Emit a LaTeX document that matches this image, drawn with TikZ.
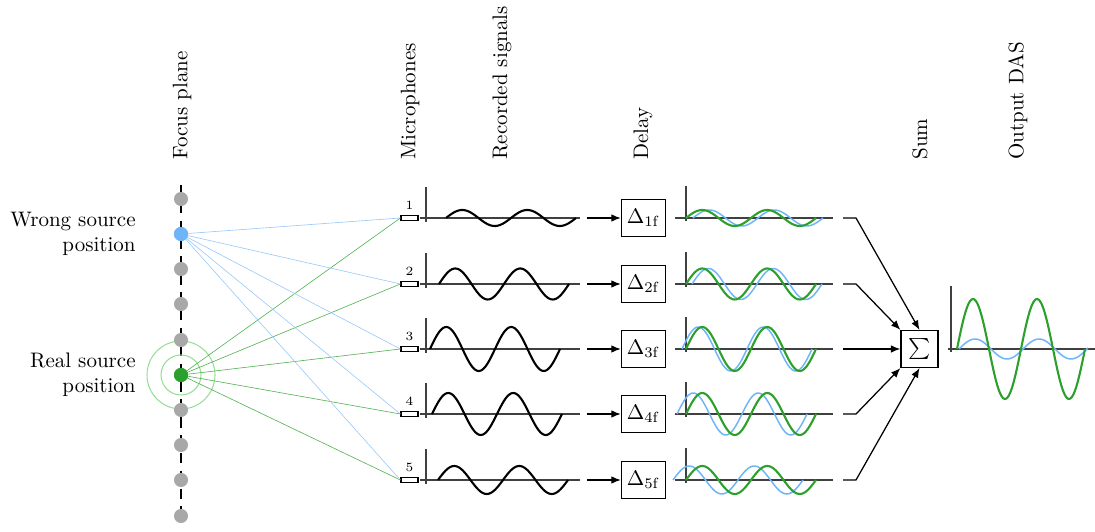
\documentclass[tikz,border=0pt]{standalone}
\usetikzlibrary{arrows.meta}
\definecolor{dasblue}{RGB}{110,180,248}
\definecolor{dasgreen}{RGB}{44,160,44}
\definecolor{lgreen}{RGB}{150,222,150}
\definecolor{dotgray}{RGB}{168,168,168}
\tikzset{
  dotnode/.style={circle,inner sep=0pt,minimum size=6.7pt},
  micbox/.style={draw,fill=white,line width=0.7pt,minimum width=8pt,minimum height=2.6pt,inner sep=0pt},
  delaybox/.style={draw,line width=0.6pt,minimum width=21pt,minimum height=17.6pt,inner sep=0pt},
  axisline/.style={black!75,line width=0.5pt},
  recsig/.style={black,line width=1pt},
  gsig/.style={dasgreen,line width=1pt},
  bsig/.style={dasblue,line width=0.7pt},
  arr/.style={line width=0.6pt,-{Latex[length=4.5pt,width=3.6pt]}},
  toplabel/.style={rotate=90,anchor=west,inner sep=0pt},
  ray/.style={line width=0.3pt},
}
\begin{document}
\begin{tikzpicture}[x=0.476pt,y=-0.476pt]
\useasboundingbox (0,0) rectangle (1095,532);
% top labels
\node[toplabel] (lfocus) at (182,160) {Focus plane};
\node[toplabel] (lmic) at (410,160) {Microphones};
\node[toplabel] (lrec) at (502,160) {Recorded signals};
\node[toplabel] (ldel) at (643,160) {Delay};
\node[toplabel] (lsum) at (920,160) {Sum};
\node[toplabel] (lout) at (1018,160) {Output DAS};
% left labels
\node[align=right,anchor=east,inner sep=0pt] (lwrong) at (136,234) {Wrong source\\position};
\node[align=right,anchor=east,inner sep=0pt] (lreal) at (136,375) {Real source\\position};
% focus plane
\coordinate (ftop) at (181,185);
\coordinate (fbot) at (181,524);
\draw[line width=0.7pt,dash pattern=on 5pt off 3.5pt] (ftop) -- (fbot);
\draw[lgreen,line width=0.5pt] (181,375) circle[radius=20];
\draw[lgreen,line width=0.5pt] (181,375) circle[radius=34];
% microphones
\foreach \i/\yy in {1/218,2/284,3/349,4/414,5/480}{
  \node[micbox,label={[font=\fontsize{6}{7}\selectfont,inner sep=2.2pt]above:\i}] (m\i) at (409.5,\yy) {};
}
% sources
\node[dotnode,fill=dasblue] (wrong) at (181,234) {};
\node[dotnode,fill=dasgreen] (real) at (181,375) {};
\foreach \i in {1,...,5}{
  \draw[ray,dasblue!70] (wrong.center) -- (m\i.west);
  \draw[ray,dasgreen!80] (real.center) -- (m\i.west);
}
\node[dotnode,fill=dasblue] (wrong2) at (181,234) {};
\node[dotnode,fill=dasgreen] (real2) at (181,375) {};
\foreach \k/\yy in {1/199,2/269,3/304,4/340,5/410,6/445,7/480,8/516}{
  \node[dotnode,fill=dotgray] (g\k) at (181,\yy) {};
}
% sum
\node[delaybox,minimum width=17.6pt] (sum) at (919.5,349) {$\sum$};
% rows
\foreach \i/\yy/\amp/\st/\bst/\tgt in {1/218/8/446/693/north, 2/284/15.5/439/692/north west, 3/349/22/430/682/west, 4/414/21/432/677/south west, 5/480/14/438/673/south}{
  % recorded axes
  \draw[axisline] (426,\yy-31) -- (426,\yy+4);
  \draw[axisline] (420,\yy) -- (580,\yy);
  \draw[recsig] plot[domain=0:130,samples=90,smooth] ({\st+\x},{\yy-\amp*sin(\x*5.53846)});
  % arrow to delay
  \node[delaybox] (d\i) at (643.5,\yy) {$\Delta_{\mathrm{\i f}}$};
  \coordinate (a\i) at (587,\yy);
  \draw[arr] (a\i) -- (d\i.west);
  % delayed axes
  \draw[axisline] (686,\yy-32) -- (686,\yy+3);
  \draw[axisline] (675,\yy) -- (833,\yy);
  \draw[bsig] plot[domain=0:130,samples=90,smooth] ({\bst+\x},{\yy-\amp*sin(\x*5.53846)});
  \draw[gsig] plot[domain=0:130,samples=90,smooth] ({686+\x},{\yy-\amp*sin(\x*5.53846)});
  % to sum
  \coordinate (s\i) at (843,\yy);
  \draw[arr] (s\i) -- ++(13,0) -- (sum.\tgt);
}
% output
\draw[axisline] (951,286) -- (951,352);
\draw[axisline] (948,349) -- (1095,349);
\draw[bsig] plot[domain=0:129,samples=90,smooth] ({959+\x},{349-10*sin(\x*5.625)});
\draw[gsig] plot[domain=0:128,samples=90,smooth] ({957+\x},{349-50*sin(\x*5.625)});
\end{tikzpicture}
\end{document}
